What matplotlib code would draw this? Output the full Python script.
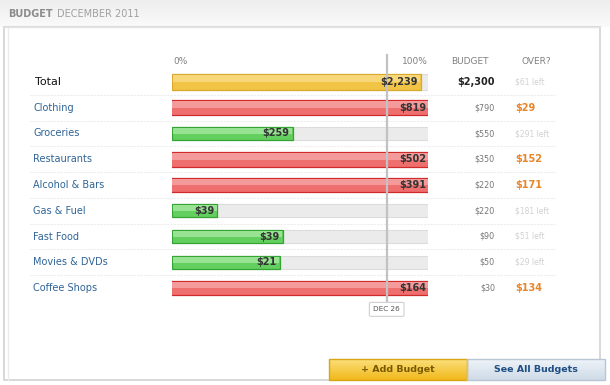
import numpy as np
import matplotlib
matplotlib.use("Agg")
import matplotlib.pyplot as plt
from matplotlib.patches import Rectangle

# ---- data ----
title_bold = "BUDGET"
title_rest = "DECEMBER 2011"
total_label = "Total"
total_spent = 2239
total_budget = 2300
categories = ["Clothing", "Groceries", "Restaurants", "Alcohol & Bars", "Gas & Fuel",
              "Fast Food", "Movies & DVDs", "Coffee Shops"]
spent = [819, 259, 502, 391, 39, 39, 21, 164]
budget = [790, 550, 350, 220, 220, 90, 50, 30]
day_of_month = 26
days_in_month = 31
today_label = "DEC 26"
header_labels = ["0%", "100%", "BUDGET", "OVER?"]
button_labels = ["+ Add Budget", "See All Budgets"]

plt.rcParams['font.family'] = ['DejaVu Sans']

W, H = 610, 385
fig = plt.figure(figsize=(W / 100, H / 100), dpi=100)
fig.patch.set_facecolor("white")

# ---- background / decoration axes in pixel coords ----
bg = fig.add_axes([0, 0, 1, 1], zorder=0)
bg.axis("off")
grad = np.linspace(0, 1, 50).reshape(-1, 1)
cm = matplotlib.colors.LinearSegmentedColormap.from_list
bg.imshow(grad, extent=(0, W, 27, 0), aspect="auto", cmap=cm("t", ["#eeeeee", "#fafafa"]))
bg.add_patch(Rectangle((4, 27), 596, 353, facecolor="white", edgecolor="#d8d8d8", lw=1.4))
bg.plot([8, 8], [28, 380], color="#ececec", lw=1)
bg.plot([4, 600], [27, 27], color="#e4e4e4", lw=1)
bg.text(8, 14, title_bold, fontsize=7, fontweight="bold", color="#8c8c8c", va="center", ha="left")
bg.text(57, 14, title_rest, fontsize=7, color="#a0a0a0", va="center", ha="left")

# buttons
bg.imshow(grad, extent=(329, 467, 380, 359), aspect="auto", cmap=cm("g", ["#fbe07a", "#f1b81c"]), zorder=2)
bg.imshow(grad, extent=(467, 605, 380, 359), aspect="auto", cmap=cm("b", ["#eef3f8", "#cfdbe7"]), zorder=2)
bg.add_patch(Rectangle((329, 359), 138, 21, fill=False, edgecolor="#d9a514", lw=1, zorder=3))
bg.add_patch(Rectangle((467, 359), 138, 21, fill=False, edgecolor="#b8c6d4", lw=1, zorder=3))
bg.text(398, 370, button_labels[0], fontsize=6.8, fontweight="bold", color="#7a5a00", ha="center", va="center", zorder=4)
bg.text(536, 370, button_labels[1], fontsize=6.8, fontweight="bold", color="#1f4f85", ha="center", va="center", zorder=4)
bg.set_xlim(0, W)
bg.set_ylim(H, 0)

# ---- bar axes ----
x0, x1 = 172, 428
row0, step = 82, 25.75
n = len(categories) + 1
top = row0 - step / 2
bottom = top + n * step
ax = fig.add_axes([x0 / W, 1 - bottom / H, (x1 - x0) / W, n * step / H], zorder=1)
ax.set_xlim(0, 1)
ax.set_ylim(n - 0.5, -0.5)
ax.axis("off")
ax.patch.set_alpha(0)

def px(xpix):
    return (xpix - x0) / (x1 - x0)

def draw_bar(y, frac, over, h, col, light, edge):
    # track
    ax.barh(y, 1.0, height=h, left=0, color="#ebebeb", edgecolor="#dcdcdc", lw=0.8, zorder=1)
    if over:
        left, width, hh = -0.006, 1.012, h + 0.08
    else:
        left, width, hh = 0.0, frac, h
    ax.barh(y, width, height=hh, left=left, color=col, edgecolor=edge, lw=0.9, zorder=2)
    ax.barh(y - hh * 0.2, width - 0.006, height=hh * 0.45, left=left + 0.003, color=light, lw=0, zorder=3)
    return left + width

# separators
for i in range(n - 1):
    ax.plot([px(30), px(555)], [i + 0.5, i + 0.5], color="#ededed", lw=0.8,
            ls=(0, (2, 1)), clip_on=False, zorder=0)

# headers
hy = -0.78
hkw = dict(fontsize=6.5, color="#808080", va="center", clip_on=False)
ax.text(px(173), hy, header_labels[0], ha="left", **hkw)
ax.text(px(428), hy, header_labels[1], ha="right", **hkw)
ax.text(px(470), hy, header_labels[2], ha="center", **hkw)
ax.text(px(536), hy, header_labels[3], ha="center", **hkw)

# today line
tf = day_of_month / days_in_month
ax.plot([tf, tf], [-1.05, n - 0.45], color="#c2c2c2", lw=1.6, zorder=4, clip_on=False)
ax.text(tf, n - 0.17, today_label, fontsize=5.2, color="#555555", ha="center", va="center",
        zorder=6, clip_on=False,
        bbox=dict(boxstyle="round,pad=0.55,rounding_size=0.2", facecolor="white", edgecolor="#d0d0d0", lw=0.8))

# total row
tfrac = total_spent / total_budget
end = draw_bar(0, min(tfrac, 1), tfrac > 1, 0.66, "#f2c445", "#f7d77a", "#d8a92a")
ax.text(end - 0.012, 0, f"${total_spent:,}", fontsize=7, fontweight="bold", color="#333333",
        ha="right", va="center", zorder=5)
ax.text(px(35), 0, total_label, fontsize=8, color="#111111", ha="left", va="center", clip_on=False)
ax.text(px(495), 0, f"${total_budget:,}", fontsize=7, fontweight="bold", color="#222222",
        ha="right", va="center", clip_on=False)
diff = total_budget - total_spent
ax.text(px(515), 0, f"${diff} left", fontsize=5.5, color="#d0d0d0", ha="left", va="center", clip_on=False)

# category rows
for i, (c, s, b) in enumerate(zip(categories, spent, budget), start=1):
    frac = s / b
    over = frac > 1
    if over:
        end = draw_bar(i, 1, True, 0.5, "#ef6f6f", "#f49a9a", "#cf2b2b")
    else:
        end = draw_bar(i, frac, False, 0.5, "#63cf5f", "#98e294", "#34a534")
    ax.text(end - 0.012, i, f"${s:,}", fontsize=7, fontweight="bold", color="#333333",
            ha="right", va="center", zorder=5)
    ax.text(px(33), i, c, fontsize=7, color="#2f6497", ha="left", va="center", clip_on=False)
    ax.text(px(495), i, f"${b:,}", fontsize=5.8, color="#777777", ha="right", va="center", clip_on=False)
    if over:
        ax.text(px(515), i, f"${s - b:,}", fontsize=7, fontweight="bold", color="#e8852a",
                ha="left", va="center", clip_on=False)
    else:
        ax.text(px(515), i, f"${b - s:,} left", fontsize=5.5, color="#d0d0d0",
                ha="left", va="center", clip_on=False)

fig.savefig("out.png", dpi=100)
